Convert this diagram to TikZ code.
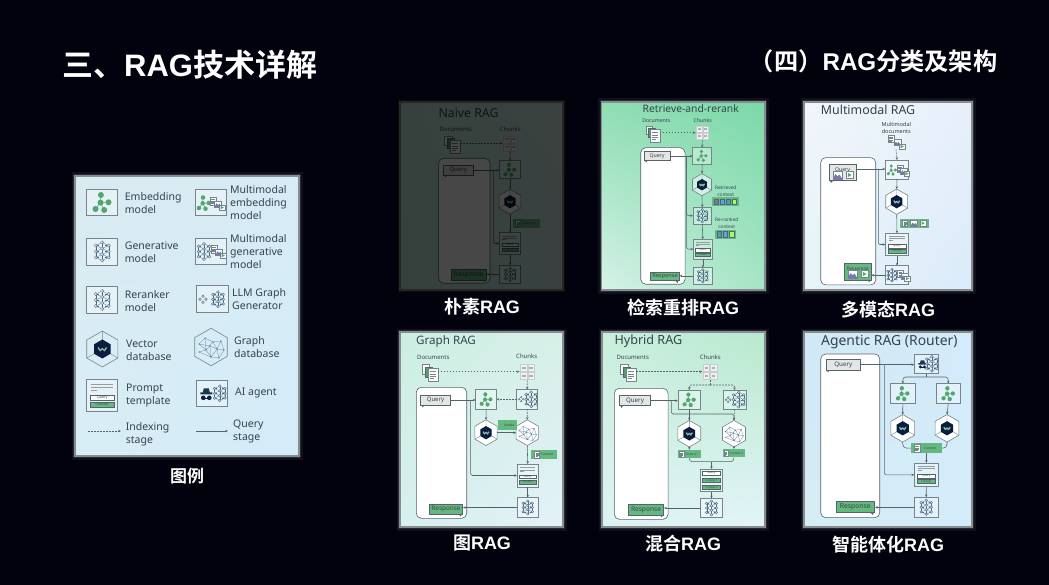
\documentclass[tikz,border=0pt]{standalone}
\usepackage{fontspec}
\setmainfont{Noto Sans}
\newfontfamily\cjkbold[BoldFont={Noto Sans CJK SC Bold}]{Noto Sans CJK SC}
\newfontfamily\latinbold{Liberation Sans}
\usetikzlibrary{arrows.meta,shapes.geometric,shadings}
\newcommand\headtext[2]{{\cjkbold\bfseries #1}{\latinbold\bfseries #2}}
\newcommand\sizedfont[2]{\fontsize{#1}{#2}\selectfont}
\definecolor{nightbg}{HTML}{02020F}
\definecolor{framegray}{HTML}{868D8D}
\definecolor{linegray}{HTML}{566469}
\definecolor{boxgray}{HTML}{76858A}
\definecolor{inktext}{HTML}{35434D}
\definecolor{leafgreen}{HTML}{51A76E}
\definecolor{chipgreen}{HTML}{63B980}
\definecolor{netblue}{HTML}{4A6A84}
\definecolor{navyhex}{HTML}{0A1C40}
\definecolor{bubblegray}{HTML}{E4E5E5}
\definecolor{imgpurple}{HTML}{7B74B6}
\newcommand\panelback[8]{
  \definecolor{cornerul}{HTML}{#5}
  \definecolor{cornerur}{HTML}{#6}
  \definecolor{cornerll}{HTML}{#7}
  \definecolor{cornerlr}{HTML}{#8}
  \draw[white,opacity=.06,line width=7pt] (#1,#2) rectangle (#3,#4);
  \draw[white,opacity=.10,line width=4pt] (#1,#2) rectangle (#3,#4);
  \shade[upper left=cornerul,upper right=cornerur,lower left=cornerll,lower right=cornerlr] (#1,#2) rectangle (#3,#4);
  \draw[framegray,line width=1.2pt] (#1,#2) rectangle (#3,#4);
}
\newcommand\tailsw[1]{\fill[linegray] ([xshift=1.5pt]#1.south west) -- ++(2.6,0) -- ++(-2,2) -- cycle;}
\newcommand\tailse[1]{\fill[linegray] ([xshift=-4pt]#1.south east) -- ++(2.6,0) -- ++(-.6,2) -- cycle;}
\tikzset{
  embedgly/.pic={
    \draw[leafgreen,line width=.5pt] (-1.3,-7.3) -- (-1.7,.3) -- (6.3,0) (-1.7,.3) -- (-6.7,6.7) (-1.7,.3) -- (2,7.7);
    \foreach \x/\y in {-1.3/-7.3,-1.7/.3,6.3/0,-6.7/6.7,2/7.7} \fill[leafgreen] (\x,\y) circle (3);
  },
  gengly/.pic={
    \foreach \s in {-1,1}{
      \foreach \y in {-6,0,6}{
        \draw[netblue,line width=.25pt] (\s*6.5,\y) -- (0,\y-3) (\s*6.5,\y) -- (0,\y+3);
        \draw[netblue,line width=.25pt] (\s*6.5,\y) -- (\s*3,\y);
      }
      \draw[netblue,line width=.25pt] (\s*6.5,-6) -- (\s*6.5,6);
    }
    \draw[netblue,line width=.25pt] (0,-9) -- (0,9);
    \foreach \x/\y in {0/-9,0/-3,0/3,0/9,-6.5/-6,-6.5/0,-6.5/6,6.5/-6,6.5/0,6.5/6}
      \draw[netblue,fill=white!75!netblue,line width=.35pt] (\x,\y) circle (1.7);
  },
  llmgly/.pic={
    \pic[scale=.8] at (6,0) {gengly};
    \foreach \x/\y in {-9/-3,-6/0,-9/3,-12/0} \draw[netblue,fill=white!70!netblue,line width=.3pt] (\x,\y) circle (1.4);
  },
  agentgly/.pic={
    \fill[navyhex!80!leafgreen] (-11.5,-1) -- (-9,-1) -- (-8,-5) -- (-3,-5) -- (-2,-1) -- (.5,-1) -- (.5,1) -- (-11.5,1) -- cycle;
    \fill[navyhex] (-8.5,4.5) circle (2.3) (-2.5,4.5) circle (2.3);
    \draw[navyhex,line width=.5pt] (-8.5,4.5) -- (-2.5,4.5);
    \pic[scale=.8] at (8,0) {gengly};
  },
  vecgly/.pic={
    \draw[boxgray,line width=.4pt] (0,-18) -- (0,0) (-15.6,9) -- (0,0) (15.6,9) -- (0,0);
    \fill[navyhex] (0,-9.5) -- (8.2,-4.75) -- (8.2,4.75) -- (0,9.5) -- (-8.2,4.75) -- (-8.2,-4.75) -- cycle;
    \draw[leafgreen!70!white,line width=1.3pt] (-4.2,-1.5) -- (-2.2,1.5) -- (0,-.3) -- (2.2,1.5) -- (4.2,-1.5);
  },
  graphgly/.pic={
    \draw[netblue!80!white,line width=.3pt] (-12,-3) -- (-6,-9) -- (2,-5) -- (10,-6) -- (13,3) -- (6,2) -- (0,10) -- (-5,3) -- (-12,-3) (-6,-9) -- (-5,3) -- (2,-5) -- (6,2) -- (10,-6) (-12,-3) -- (-1,-1) -- (6,2) (-1,-1) -- (0,10) (-12,5) -- (-5,3) (-12,5) -- (0,10) (6,2) -- (8,11) -- (0,10) (13,3) -- (8,11);
    \foreach \x/\y in {-12/-3,-6/-9,2/-5,10/-6,13/3,6/2,0/10,-5/3,-1/-1,-12/5,8/11} \fill[netblue] (\x,\y) circle (.6);
  },
  promptgly/.pic={
    \draw[boxgray!80!white,line width=.35pt] (-11.5,-11.3) -- (11,-11.3) (-11.5,-8.3) -- (11,-8.3) (-11.5,-5.7) -- (-5.5,-5.7);
    \node[draw=linegray,fill=white,line width=.25pt,minimum width=24,minimum height=5.3,inner sep=0,transform shape,text=inktext,font=\sizedfont{3.6}{4}] (-qbox) at (0,1.7) {Query};
    \node[draw=linegray,fill=chipgreen,line width=.25pt,minimum width=24,minimum height=5.3,inner sep=0,transform shape,text=inktext,font=\sizedfont{3.6}{4}] (-cbox) at (0,9) {Context};
  },
  hybridgly/.pic={
    \node[draw=linegray,fill=white,line width=.25pt,minimum width=24,minimum height=5.3,inner sep=0,transform shape,text=inktext,font=\sizedfont{3.6}{4}] (-qbox) at (0,-10) {Query};
    \node[draw=linegray,fill=chipgreen,line width=.25pt,minimum width=24,minimum height=5.3,inner sep=0,transform shape,text=inktext,font=\sizedfont{3.6}{4}] (-abox) at (0,0) {Context 1};
    \node[draw=linegray,fill=chipgreen,line width=.25pt,minimum width=24,minimum height=5.3,inner sep=0,transform shape,text=inktext,font=\sizedfont{3.6}{4}] (-bbox) at (0,9) {Context 2};
  },
  pagegly/.pic={
    \draw[boxgray,fill=white,line width=.3pt] (-5,-6.5) rectangle (5,6.5);
    \draw[boxgray,line width=.3pt] (-3,-3) -- (3,-3) (-3,-.5) -- (3,-.5) (-3,2) -- (3,2) (-3,4) -- (1,4);
  },
  docgly/.pic={
    \draw[boxgray,fill=white,line width=.4pt] (-10,-10) rectangle (0,3);
    \draw[linegray,fill=chipgreen!85!black,line width=.3pt] (-6,-7) rectangle (4,7);
    \pic at (5,4) {pagegly};
  },
  chunkgly/.pic={
    \foreach \x in {-4,4}{
      \foreach \y in {-4.5,4.5}{
        \draw[boxgray!40!white,fill=black!6,line width=.3pt] (\x-3.4,\y-3.8) rectangle (\x+3.4,\y+3.8);
        \fill[linegray!50!white] (\x-2,\y-1) rectangle (\x+2,\y+1);
      }
    }
  },
  imagegly/.pic={
    \draw[boxgray,fill=white,line width=.3pt] (-5,-4) rectangle (5,4);
    \fill[imgpurple] (-5,4) -- (-2,-1) -- (0,1.5) -- (2,-.5) -- (5,4) -- cycle;
  },
  videogly/.pic={
    \draw[boxgray,fill=white,line width=.3pt] (-4,-4) rectangle (4,4);
    \fill[leafgreen] (-2,-2.5) -- (2.5,0) -- (-2,2.5) -- cycle;
  },
  mediagly/.pic={
    \pic[scale=.6] at (-4,-3) {pagegly};
    \pic[scale=.7] at (1,0) {imagegly};
    \pic[scale=.7] at (5,3.5) {videogly};
  },
  ctxfourgly/.pic={
    \foreach \x/\c in {-9.5/imgpurple,-3.2/blue!50!cyan!70!white,3.2/cyan!60!netblue,9.5/green!60!yellow!60!white}
      \draw[linegray,fill=\c,line width=.25pt] (\x-2.4,-3) rectangle (\x+2.4,3);
  },
  ctxthreegly/.pic={
    \foreach \x/\c in {-6.4/cyan!60!netblue,0/blue!50!cyan!70!white,6.4/green!60!yellow!60!white}
      \draw[linegray,fill=\c,line width=.25pt] (\x-2.4,-3) rectangle (\x+2.4,3);
  }
}
\begin{document}
\begin{tikzpicture}[x=1pt,y=-1pt,>={Stealth[length=2.8pt,width=2.4pt]},
  boxicon/.style={draw=boxgray,fill=white,fill opacity=.35,line width=.6pt,inner sep=0,outer sep=0},
  hexicon/.style={draw=boxgray,fill=white,line width=.6pt,regular polygon,regular polygon sides=6,shape border rotate=30,inner sep=0,outer sep=0},
  userpanel/.style={draw=linegray,fill=white,rounded corners=5pt,line width=.6pt},
  querybub/.style={draw=linegray,fill=bubblegray,line width=.6pt,inner sep=0,text=inktext},
  respbub/.style={draw=linegray,fill=chipgreen,line width=.6pt,inner sep=0,text=black!75},
  chip/.style={fill=chipgreen,inner sep=0,text=black!70,font=\sizedfont{3.4}{4}},
  headline/.style={text=white,inner sep=0},
  caption/.style={text=white,inner sep=0,font=\sizedfont{18}{20}},
  paneltitle/.style={anchor=west,inner sep=0,text=inktext},
  smalltag/.style={inner sep=0,text=inktext,align=center},
  legendtxt/.style={anchor=west,inner sep=0,text=inktext,align=left,font=\sizedfont{10.5}{13}},
  queryflow/.style={->,draw=linegray,line width=.55pt,rounded corners=1.5pt},
  indexflow/.style={queryflow,dash pattern=on 1.8pt off 1.2pt}]
\useasboundingbox (0,0) rectangle (1049,585);
\fill[nightbg] (0,0) rectangle (1049,585);
\node[headline,anchor=west,font=\sizedfont{31}{34}] (mainhead) at (62,65) {\headtext{三、}{RAG}\headtext{技术详解}{}};
\node[headline,anchor=east,font=\sizedfont{24.2}{28}] (subhead) at (997.5,61.5) {\headtext{（四）}{RAG}\headtext{分类及架构}{}};
\panelback{75}{176}{299}{456}{DAEAF1}{D6EBF5}{D8EEF6}{D3ECF8}
\node[boxicon,minimum width=31,minimum height=26.7] (lgembed) at (102.2,202.3) {};
\pic at (lgembed) {embedgly};
\node[legendtxt] (lgembedtxt) at (124.7,203) {Embedding\\model};
\node[boxicon,minimum width=31,minimum height=26.7] (lgmmembed) at (210.5,202.3) {};
\pic[scale=.75] at (204,203) {embedgly};
\pic at (217,204) {mediagly};
\node[legendtxt] (lgmmembedtxt) at (230,203) {Multimodal\\embedding\\model};
\node[boxicon,minimum width=31,minimum height=26.7] (lggen) at (102.2,251.5) {};
\pic at (lggen) {gengly};
\node[legendtxt] (lggentxt) at (124.7,252) {Generative\\model};
\node[boxicon,minimum width=31,minimum height=26] (lgmmgen) at (210.5,251.5) {};
\pic[scale=.85] at (204,251.5) {gengly};
\pic at (218,252) {mediagly};
\node[legendtxt] (lgmmgentxt) at (230,252) {Multimodal\\generative\\model};
\node[boxicon,minimum width=31,minimum height=26.7] (lgrerank) at (102.2,300) {};
\pic at (lgrerank) {gengly};
\node[legendtxt] (lgreranktxt) at (124.7,301) {Reranker\\model};
\node[boxicon,minimum width=32,minimum height=27] (lgllm) at (212,299.2) {};
\pic at (lgllm) {llmgly};
\node[legendtxt] (lgllmtxt) at (232,299) {LLM Graph\\Generator};
\node[hexicon,fill=none,minimum size=36] (lgvec) at (102.3,349) {};
\pic at (lgvec) {vecgly};
\node[legendtxt] (lgvectxt) at (126,350) {Vector\\database};
\node[hexicon,fill=none,minimum size=37.5] (lggraph) at (211,347) {};
\pic at (lggraph) {graphgly};
\node[legendtxt] (lggraphtxt) at (234,347) {Graph\\database};
\node[boxicon,minimum width=31,minimum height=32] (lgprompt) at (102.2,395.7) {};
\pic at (lgprompt) {promptgly};
\node[legendtxt] (lgprompttxt) at (126,396) {Prompt\\template};
\node[boxicon,minimum width=31.7,minimum height=26.7] (lgagent) at (211.8,393.3) {};
\pic at (lgagent) {agentgly};
\node[legendtxt] (lgagenttxt) at (235,393) {AI agent};
\coordinate (ixfrom) at (88,431);
\coordinate (ixto) at (121,431);
\draw[indexflow] (ixfrom) -- (ixto);
\node[legendtxt] (ixtxt) at (125.7,434) {Indexing\\stage};
\coordinate (qyfrom) at (196,431);
\coordinate (qyto) at (228,431);
\draw[queryflow] (qyfrom) -- (qyto);
\node[legendtxt] (qytxt) at (233,431) {Query\\stage};
\node[caption,font=\sizedfont{17}{20}] (lgcap) at (187,476) {\headtext{图例}{}};
\panelback{400}{102}{563}{290}{C4EBDD}{D0EFE6}{BFE6DA}{CBEBE6}
\node[paneltitle,font=\sizedfont{12.3}{14}] (ntitle) at (438.3,113.3) {Naive RAG};
\node[smalltag,font=\sizedfont{6}{7}] (ndoctxt) at (455.7,129.3) {Documents};
\node[smalltag,font=\sizedfont{6}{7}] (nchtxt) at (510.3,129.3) {Chunks};
\node[minimum width=17,minimum height=19,inner sep=0] (ndoc) at (451.7,143.3) {};
\pic[scale=.72] at (ndoc) {docgly};
\node[minimum width=15,minimum height=17,inner sep=0] (nch) at (510.3,143.3) {};
\pic[scale=.9] at (nch) {chunkgly};
\node[userpanel,minimum width=51.3,minimum height=125] (nuser) at (464.3,220.8) {};
\node[querybub,minimum width=29.7,minimum height=9.7,font=\sizedfont{6}{7}] (nq) at (458.2,170.2) {Query};
\node[respbub,minimum width=34.7,minimum height=10.7,font=\sizedfont{6.6}{7}] (nr) at (468.7,274.7) {Response};
\tailsw{nq}
\tailse{nr}
\node[boxicon,minimum width=21.4,minimum height=18] (ne) at (510,169.7) {};
\pic[scale=.68] at (ne) {embedgly};
\node[hexicon,minimum size=25] (nh) at (510,201.7) {};
\pic[scale=.69] at (nh) {vecgly};
\node[chip,minimum width=27,minimum height=9] (nc) at (526.2,223.2) {\hspace{6pt}Context};
\pic[scale=.5] at (518,223.2) {pagegly};
\node[boxicon,minimum width=21.3,minimum height=21.7] (np) at (510,243.5) {};
\pic[scale=.68] at (np) {promptgly};
\node[boxicon,minimum width=21.3,minimum height=18] (ng) at (510,274.3) {};
\pic[scale=.72] at (ng) {gengly};
\coordinate (nb) at (493.3,170);
\draw[indexflow] (ndoc.east) -- (nch.west);
\draw[indexflow] (nch.south) -- (ne.north);
\draw[queryflow] (nq.east) -- (nq.east -| ne.west);
\draw[queryflow] (nb) |- (np.west);
\draw[queryflow] (ne.south) -- (nh.north);
\draw[queryflow] (nh.south) -- (np.north);
\draw[queryflow] (np.south) -- (ng.north);
\draw[queryflow] (ng.west) -- (ng.west -| nr.east);
\fill[black,opacity=.72] (396,98) rectangle (567,294);
\node[caption] (ncap) at (482,307) {\headtext{朴素}{RAG}};
\panelback{601.7}{102}{765}{290}{8FDDB3}{7CD9A9}{D6F2E8}{A6E5C6}
\node[paneltitle,anchor=center,font=\sizedfont{10.3}{13}] (rtitle) at (690.7,108.3) {Retrieve-and-rerank};
\node[smalltag,font=\sizedfont{5.2}{6}] (rdoctxt) at (656.3,120.7) {Documents};
\node[smalltag,font=\sizedfont{5.2}{6}] (rchtxt) at (702.7,120.7) {Chunks};
\node[minimum width=14,minimum height=16,inner sep=0] (rdoc) at (652.3,132.7) {};
\pic[scale=.62] at (rdoc) {docgly};
\node[minimum width=13,minimum height=15,inner sep=0] (rch) at (702.3,132.7) {};
\pic[scale=.78] at (rch) {chunkgly};
\node[userpanel,minimum width=44.3,minimum height=136.6] (ruser) at (662.9,216) {};
\node[querybub,minimum width=26,minimum height=8.7,font=\sizedfont{5.2}{6}] (rq) at (657,156) {Query};
\node[respbub,minimum width=28.7,minimum height=8.7,font=\sizedfont{5.6}{6}] (rr) at (665,276.3) {Response};
\tailsw{rq}
\tailse{rr}
\node[boxicon,minimum width=19,minimum height=16.3] (re) at (702.2,155.8) {};
\pic[scale=.6] at (re) {embedgly};
\node[hexicon,fill opacity=.55,minimum size=22] (rh) at (702,184.7) {};
\pic[scale=.6] at (rh) {vecgly};
\node[smalltag,font=\sizedfont{4.8}{6.5}] (rrettxt) at (725.7,191) {Retrieved\\context};
\node[chip,minimum width=27,minimum height=8.4] (rret) at (725.2,201.5) {};
\pic[scale=.95] at (rret) {ctxfourgly};
\node[boxicon,minimum width=18.7,minimum height=16.7] (rk) at (702.3,215.7) {};
\pic[scale=.68] at (rk) {gengly};
\node[smalltag,font=\sizedfont{4.8}{6.5}] (rranktxt) at (726.7,223.3) {Re-ranked\\context};
\node[chip,minimum width=20.7,minimum height=8.7] (rrank) at (725.3,234.3) {};
\pic[scale=.95] at (rrank) {ctxthreegly};
\node[boxicon,minimum width=19,minimum height=19.7] (rp) at (702.8,249.2) {};
\pic[scale=.62] at (rp) {promptgly};
\node[boxicon,minimum width=19,minimum height=16.3] (rg) at (702.8,275.8) {};
\pic[scale=.68] at (rg) {gengly};
\coordinate (rb) at (686.7,156);
\draw[indexflow] (rdoc.east) -- (rch.west);
\draw[indexflow] (rch.south) -- (re.north);
\draw[queryflow] (rq.east) -- (rq.east -| re.west);
\draw[queryflow] (rb) |- (rk.west);
\draw[queryflow] (rb) |- (rp.west);
\draw[queryflow] (re.south) -- (rh.north);
\draw[queryflow] (rh.south) -- (rk.north);
\draw[queryflow] (rk.south) -- (rp.north);
\draw[queryflow] (rp.south) -- (rg.north);
\draw[queryflow] (rg.west) -- (rg.west -| rr.east);
\node[caption] (rcap) at (683,308) {\headtext{检索重排}{RAG}};
\panelback{804}{102}{972}{290}{F1F6FB}{E7EFFB}{E6F4F7}{DBEBFA}
\node[paneltitle,font=\sizedfont{12.4}{15}] (mtitle) at (820.7,110) {Multimodal RAG};
\node[smalltag,font=\sizedfont{5.5}{7}] (mdoctxt) at (896.3,127.7) {Multimodal\\documents};
\node[minimum width=21,minimum height=14,inner sep=0] (mdoc) at (896,142.3) {};
\pic[scale=1.2] at (mdoc) {mediagly};
\node[userpanel,minimum width=55,minimum height=127.3] (muser) at (848.2,221.3) {};
\node[querybub,minimum width=27,minimum height=16.7,font=\sizedfont{5.2}{6}] (mq) at (842.5,172.3) {\raisebox{5pt}{Query}};
\pic[scale=.95] at (837.5,175) {imagegly};
\pic[scale=.85] at (849.5,175) {videogly};
\node[respbub,minimum width=26.7,minimum height=16.7,font=\sizedfont{4.8}{6}] (mr) at (857.7,271.7) {\raisebox{5pt}{Response}};
\pic[scale=.95] at (852.5,274) {imagegly};
\pic[scale=.85] at (864.5,274) {videogly};
\tailsw{mq}
\tailse{mr}
\node[boxicon,minimum width=23.3,minimum height=19] (me) at (897,169.5) {};
\pic[scale=.55] at (892,170) {embedgly};
\pic[scale=.75] at (903,171) {mediagly};
\node[hexicon,minimum size=25.3] (mh) at (896.7,201.7) {};
\pic[scale=.7] at (mh) {vecgly};
\node[chip,minimum width=28.7,minimum height=9.3] (mc) at (914.5,223.2) {};
\pic[scale=.5] at (905,223.2) {pagegly};
\pic[scale=.7] at (914,223.2) {imagegly};
\pic[scale=.7] at (923,223.2) {videogly};
\node[boxicon,minimum width=23.3,minimum height=22.3] (mp) at (897,244.5) {};
\pic[scale=.72] at (mp) {promptgly};
\node[boxicon,minimum width=23.3,minimum height=19] (mg) at (897,275.2) {};
\pic[scale=.65] at (892,275.2) {gengly};
\pic[scale=.75] at (903.5,276) {mediagly};
\coordinate (mb) at (878.3,169);
\draw[indexflow] (mdoc.south) -- (me.north);
\draw[queryflow] (mq.east |- mb) -- (mb -| me.west);
\draw[queryflow] (mb) |- (mp.west);
\draw[queryflow] (me.south) -- (mh.north);
\draw[queryflow] (mh.south) -- (mp.north);
\draw[queryflow] (mp.south) -- (mg.north);
\draw[queryflow] (mg.west) -- (mg.west -| mr.east);
\node[caption] (mcap) at (888,310) {\headtext{多模态}{RAG}};
\panelback{400}{332}{563}{527}{CDEEE2}{D6F0E8}{D6F0EE}{E3F1F8}
\node[paneltitle,font=\sizedfont{11.6}{14}] (gtitle) at (416,341) {Graph RAG};
\node[smalltag,font=\sizedfont{6}{7}] (gdoctxt) at (433.3,357.3) {Documents};
\node[smalltag,font=\sizedfont{6}{7}] (gchtxt) at (526.7,356.7) {Chunks};
\node[minimum width=16,minimum height=19,inner sep=0] (gdoc) at (429.3,371.7) {};
\pic[scale=.72] at (gdoc) {docgly};
\node[minimum width=15,minimum height=17,inner sep=0] (gch) at (527.3,371.7) {};
\pic[scale=.9] at (gch) {chunkgly};
\node[userpanel,minimum width=50.4,minimum height=131] (guser) at (441.5,452.8) {};
\node[querybub,minimum width=29.7,minimum height=10,font=\sizedfont{6}{7}] (gq) at (435.5,400) {Query};
\node[respbub,minimum width=33.3,minimum height=10.3,font=\sizedfont{6.4}{7}] (gr) at (446,509.2) {Response};
\tailsw{gq}
\tailse{gr}
\node[boxicon,minimum width=21,minimum height=19.3] (ge) at (486.2,399.3) {};
\pic[scale=.68] at (ge) {embedgly};
\node[boxicon,minimum width=21,minimum height=19.3] (gl) at (527.2,399.3) {};
\pic[scale=.66] at (gl) {llmgly};
\node[hexicon,minimum size=25.7] (gh) at (486,432.7) {};
\pic[scale=.7] at (gh) {vecgly};
\node[hexicon,minimum size=25.7] (gk) at (527.3,432.7) {};
\pic[scale=.7] at (gk) {graphgly};
\node[chip,minimum width=18.7,minimum height=9.7] (gn) at (507.3,425.2) {\hspace{4pt}Nodes};
\node[chip,minimum width=26,minimum height=9.3] (gc) at (544.3,454.5) {\hspace{6pt}Context};
\pic[scale=.5] at (537,454.5) {pagegly};
\node[boxicon,minimum width=21.3,minimum height=23] (gp) at (527.7,475.5) {};
\pic[scale=.7] at (gp) {promptgly};
\node[boxicon,minimum width=21.3,minimum height=19.7] (gg) at (527.7,507.5) {};
\pic[scale=.72] at (gg) {gengly};
\coordinate (gb) at (470.7,400);
\draw[indexflow] (gdoc.east) -- (gch.west);
\draw[indexflow] (gch.south) -- (gl.north);
\draw[indexflow] (gl.west) -- (ge.east);
\draw[indexflow] (gl.south) -- (gk.north);
\draw[queryflow] (gq.east) -- (gq.east -| ge.west);
\draw[queryflow] (gb) |- (gp.west);
\draw[queryflow] (ge.south) -- (gh.north);
\draw[queryflow] (gh.east) -- (gk.west);
\draw[queryflow] (gk.south) -- (gp.north);
\draw[queryflow] (gp.south) -- (gg.north);
\draw[queryflow] (gg.west) -- (gg.west -| gr.east);
\node[caption] (gcap) at (482,543) {\headtext{图}{RAG}};
\panelback{602}{332}{765}{527}{C9EFDC}{B8E9CE}{DDF2F4}{E3F4F8}
\node[paneltitle,font=\sizedfont{12.6}{15}] (htitle) at (614.3,341.3) {Hybrid RAG};
\node[smalltag,font=\sizedfont{6}{7}] (hdoctxt) at (632.7,357.3) {Documents};
\node[smalltag,font=\sizedfont{6}{7}] (hchtxt) at (710.3,357.3) {Chunks};
\node[minimum width=16,minimum height=19,inner sep=0] (hdoc) at (627.7,371.7) {};
\pic[scale=.72] at (hdoc) {docgly};
\node[minimum width=15,minimum height=17,inner sep=0] (hch) at (710,371.7) {};
\pic[scale=.9] at (hch) {chunkgly};
\node[userpanel,minimum width=53.7,minimum height=131] (huser) at (641.2,453.8) {};
\node[querybub,minimum width=31.3,minimum height=10,font=\sizedfont{6.2}{7}] (hq) at (635,400.7) {Query};
\node[respbub,minimum width=35.3,minimum height=10.3,font=\sizedfont{6.6}{7}] (hr) at (646,509.8) {Response};
\tailsw{hq}
\tailse{hr}
\node[boxicon,minimum width=22.7,minimum height=19.3] (he) at (689.3,399.7) {};
\pic[scale=.7] at (he) {embedgly};
\node[boxicon,minimum width=23,minimum height=19.3] (hl) at (734.5,399.7) {};
\pic[scale=.7] at (hl) {llmgly};
\node[hexicon,minimum size=26.5] (hh) at (689.3,433.7) {};
\pic[scale=.72] at (hh) {vecgly};
\node[hexicon,minimum size=26.5] (hk) at (734,433.7) {};
\pic[scale=.72] at (hk) {graphgly};
\node[chip,minimum width=22.7,minimum height=8,font=\sizedfont{3}{4}] (hca) at (689.3,454) {\hspace{5pt}Context 1};
\pic[scale=.45] at (681.5,454) {pagegly};
\node[chip,minimum width=22.5,minimum height=8,font=\sizedfont{3}{4}] (hcb) at (733.8,453.2) {\hspace{5pt}Context 2};
\pic[scale=.45] at (726,453.2) {pagegly};
\node[boxicon,minimum width=22.3,minimum height=22.7] (hp) at (711.5,480.3) {};
\pic[scale=.75] at (hp) {hybridgly};
\node[boxicon,minimum width=22.3,minimum height=19.3] (hg) at (711.5,508) {};
\pic[scale=.75] at (hg) {gengly};
\coordinate (hsplit) at (710,385);
\coordinate (hb) at (671.3,414);
\coordinate (hjoin) at (711.5,461.7);
\draw[indexflow] (hdoc.east) -- (hch.west);
\draw[dash pattern=on 1.8pt off 1.2pt,draw=linegray,line width=.55pt] (hch.south) -- (hsplit);
\draw[indexflow] (hsplit) -- (hsplit -| he.north) -- (he.north);
\draw[indexflow] (hsplit) -- (hsplit -| hl.north) -- (hl.north);
\draw[indexflow] (hl.south) -- (hk.north);
\draw[queryflow] (hq.east) -- (hq.east -| he.west);
\draw[queryflow] (hq.east -| hb) -- (hb) -- (hb -| hk.north) -- (hk.north);
\draw[queryflow] (he.south) -- (hh.north);
\draw[queryflow] (hh.south) -- (hca.north);
\draw[queryflow] (hk.south) -- (hcb.north);
\draw[draw=linegray,line width=.55pt,rounded corners=3pt] (hca.south) -- (hca.south |- hjoin) -- (hjoin);
\draw[draw=linegray,line width=.55pt,rounded corners=3pt] (hcb.south) -- (hcb.south |- hjoin) -- (hjoin);
\draw[queryflow] (hjoin) -- (hp.north);
\draw[queryflow] (hp.south) -- (hg.north);
\draw[queryflow] (hg.west) -- (hg.west -| hr.east);
\node[caption] (hcap) at (683,544) {\headtext{混合}{RAG}};
\panelback{804}{332}{972}{527}{D0E9F6}{D3EBFA}{D6ECF5}{D4ECFA}
\node[paneltitle,font=\sizedfont{13.9}{16}] (atitle) at (821,341.7) {Agentic RAG (Router)};
\node[userpanel,minimum width=59,minimum height=163.7] (auser) at (850.2,435.8) {};
\node[querybub,minimum width=34.7,minimum height=10.7,font=\sizedfont{6.2}{7}] (aq) at (843.3,364.7) {Query};
\node[respbub,minimum width=38.7,minimum height=11,font=\sizedfont{6.8}{8}] (ar) at (855.3,507.2) {Response};
\tailsw{aq}
\tailse{ar}
\node[boxicon,minimum width=24,minimum height=19.7] (ag) at (926.3,363.8) {};
\pic[scale=.7] at (ag) {agentgly};
\node[boxicon,minimum width=25,minimum height=19.7] (ael) at (902.8,393.5) {};
\pic[scale=.72] at (ael) {embedgly};
\node[boxicon,minimum width=24.7,minimum height=19.7] (aer) at (948.3,393.5) {};
\pic[scale=.72] at (aer) {embedgly};
\node[hexicon,minimum size=27.5] (ahl) at (902.7,428.3) {};
\pic[scale=.75] at (ahl) {vecgly};
\node[hexicon,minimum size=27.5] (ahr) at (947,428.3) {};
\pic[scale=.75] at (ahr) {vecgly};
\node[chip,minimum width=30.7,minimum height=9.7] (ac) at (926.3,448.2) {\hspace{7pt}Context};
\pic[scale=.55] at (917,448.2) {pagegly};
\node[boxicon,minimum width=24,minimum height=23.7] (ap) at (926.3,474.8) {};
\pic[scale=.75] at (ap) {promptgly};
\node[boxicon,minimum width=24.3,minimum height=20] (agen) at (926.2,507.3) {};
\pic[scale=.78] at (agen) {gengly};
\coordinate (asplit) at (926.3,377);
\coordinate (ab) at (884.3,364.7);
\draw[queryflow] (aq.east) -- (aq.east -| ag.west);
\draw[queryflow] (ab) |- (ap.west);
\draw[draw=linegray,line width=.55pt] (ag.south) -- (asplit);
\draw[queryflow,rounded corners=3pt] (asplit) -- (asplit -| ael.north) -- (ael.north);
\draw[queryflow,rounded corners=3pt] (asplit) -- (asplit -| aer.north) -- (aer.north);
\draw[queryflow] (ael.south) -- (ahl.north);
\draw[queryflow] (aer.south) -- (ahr.north);
\draw[draw=linegray,line width=.55pt,rounded corners=4pt] (ahl.south) |- (ac.west);
\draw[draw=linegray,line width=.55pt,rounded corners=4pt] (ahr.south) |- (ac.east);
\draw[queryflow] (ac.south) -- (ap.north);
\draw[queryflow] (ap.south) -- (agen.north);
\draw[queryflow] (agen.west) -- (agen.west -| ar.east);
\node[caption] (acap) at (888,545) {\headtext{智能体化}{RAG}};
\end{tikzpicture}
\end{document}
